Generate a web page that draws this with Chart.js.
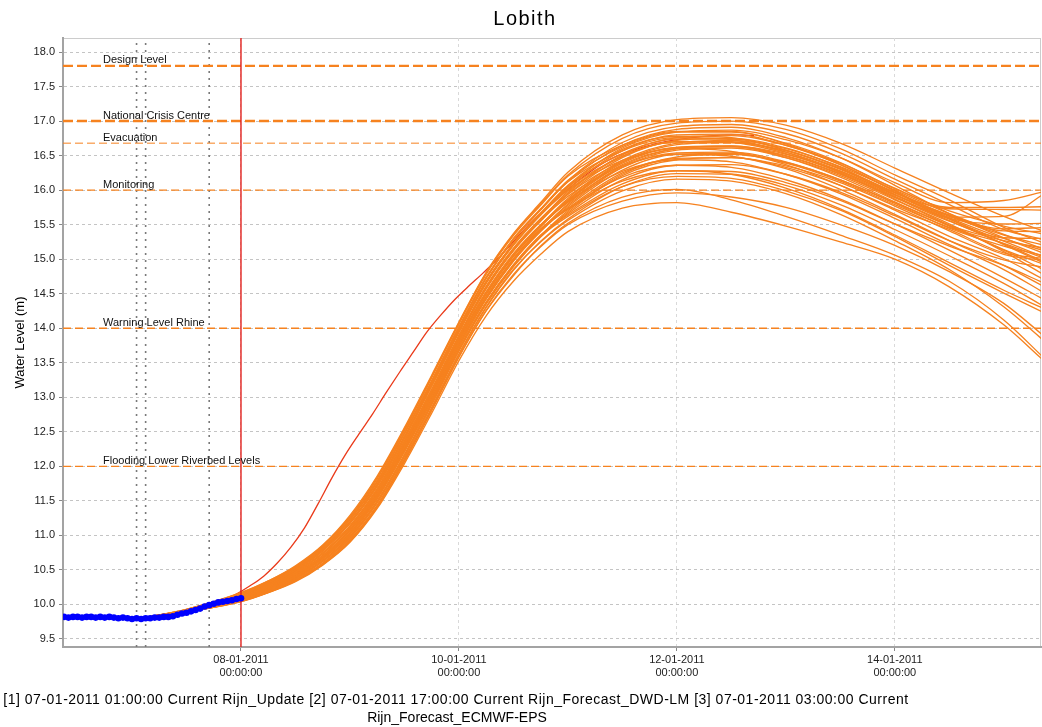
<!DOCTYPE html>
<html>
<head>
<meta charset="utf-8">
<title>Lobith</title>
<script src="https://cdn.jsdelivr.net/npm/chart.js@4.4.1/dist/chart.umd.min.js"></script>
<style>
  html, body { margin: 0; padding: 0; background: #fff; }
  #wrap { width: 1042px; height: 727px; }
</style>
</head>
<body>
<div id="wrap"><canvas id="c" width="1042" height="727"></canvas></div>
<script>
// Time axis is in hours since 07-01-2011 00:00:00
const X_MIN = -15.2;
const X_MAX = 200.2;
const Y_MIN = 9.384;
const Y_MAX = 18.203;

const yTicks = [9.5, 10.0, 10.5, 11.0, 11.5, 12.0, 12.5, 13.0, 13.5, 14.0, 14.5, 15.0, 15.5, 16.0, 16.5, 17.0, 17.5, 18.0];
const tickHours = [24, 72, 120, 168];
const tickLabels = [
  ['08-01-2011', '00:00:00'],
  ['10-01-2011', '00:00:00'],
  ['12-01-2011', '00:00:00'],
  ['14-01-2011', '00:00:00']
];

// Alarm levels
const levelNames = ['Design Level', 'National Crisis Centre', 'Evacuation', 'Monitoring', 'Warning Level Rhine', 'Flooding Lower Riverbed Levels'];
const levelValues = [17.8, 17.0, 16.68, 16.0, 14.0, 12.0];

// Forecast run times (hours): [1] Rijn_Update, [3] ECMWF-EPS, [2] DWD-LM
const runHours = [1, 3, 17];
const nowHour = 24;

// Observed water level, hourly from hour -15 to hour 24
const obsStartHour = -15;
const observed = [
  9.82, 9.81, 9.82, 9.82, 9.81, 9.82, 9.82, 9.81, 9.82, 9.81, 9.82, 9.81, 9.80, 9.81, 9.80,
  9.79, 9.80, 9.79, 9.80, 9.80, 9.81, 9.81,
  9.82, 9.82, 9.83, 9.85, 9.87, 9.88,
  9.90, 9.92, 9.94, 9.97, 9.99, 10.01,
  10.03, 10.04, 10.05, 10.06, 10.08, 10.09
];

// Rijn_Forecast_DWD-LM, every 3 hours from hour 17
const dwdStartHour = 17;
const dwdForecast = [
  10.00, 10.05, 10.15, 10.27, 10.41, 10.60, 10.83, 11.11, 11.46, 11.83,
  12.17, 12.47, 12.76, 13.07, 13.37, 13.66, 13.95, 14.19, 14.41, 14.60,
  14.78, 14.97, 15.18, 15.40, 15.60, 15.78, 15.95, 16.12, 16.27, 16.40,
  16.50, 16.57, 16.63, 16.68, 16.72, 16.75, 16.77, 16.79, 16.80, 16.80, 16.79
];

// Rijn_Forecast_ECMWF-EPS members
const epsHours = [3, 12, 24, 30, 36, 42, 48, 54, 60, 66, 72, 78, 84, 90, 96, 108, 120, 132, 144, 156, 168, 180, 192, 201];
const epsMembers = [
  [9.81, 9.93, 10.17, 10.34, 10.56, 10.86, 11.29, 11.86, 12.56, 13.32, 14.09, 14.81, 15.37, 15.82, 16.26, 16.80, 17.02, 17.05, 16.94, 16.68, 16.32, 15.96, 15.62, 15.40],
  [9.81, 9.93, 10.17, 10.34, 10.55, 10.85, 11.27, 11.84, 12.54, 13.30, 14.08, 14.80, 15.36, 15.80, 16.22, 16.75, 16.97, 17.00, 16.88, 16.60, 16.22, 15.86, 15.46, 15.23],
  [9.81, 9.92, 10.15, 10.32, 10.53, 10.82, 11.24, 11.79, 12.49, 13.24, 14.02, 14.74, 15.30, 15.73, 16.14, 16.69, 16.92, 16.95, 16.82, 16.54, 16.16, 15.79, 15.43, 15.28],
  [9.81, 9.92, 10.15, 10.31, 10.52, 10.81, 11.22, 11.77, 12.47, 13.22, 14.00, 14.72, 15.28, 15.71, 16.12, 16.65, 16.88, 16.91, 16.76, 16.47, 16.07, 15.66, 15.31, 15.08],
  [9.80, 9.92, 10.14, 10.29, 10.50, 10.78, 11.18, 11.72, 12.41, 13.17, 13.95, 14.66, 15.21, 15.65, 16.05, 16.61, 16.84, 16.87, 16.73, 16.47, 16.11, 15.82, 15.85, 15.98],
  [9.81, 9.93, 10.16, 10.33, 10.54, 10.84, 11.26, 11.82, 12.52, 13.28, 14.06, 14.78, 15.34, 15.78, 16.20, 16.65, 16.85, 16.85, 16.67, 16.37, 15.99, 15.59, 15.21, 14.94],
  [9.80, 9.92, 10.14, 10.30, 10.51, 10.79, 11.19, 11.74, 12.43, 13.19, 13.96, 14.67, 15.23, 15.66, 16.04, 16.57, 16.80, 16.81, 16.65, 16.37, 15.99, 15.61, 15.62, 15.95],
  [9.80, 9.91, 10.12, 10.27, 10.47, 10.74, 11.13, 11.66, 12.35, 13.10, 13.88, 14.59, 15.14, 15.57, 15.96, 16.51, 16.76, 16.79, 16.65, 16.39, 16.03, 15.75, 15.75, 15.76],
  [9.81, 9.92, 10.15, 10.32, 10.52, 10.81, 11.23, 11.78, 12.48, 13.23, 14.01, 14.73, 15.29, 15.72, 16.12, 16.57, 16.76, 16.73, 16.55, 16.25, 15.87, 15.49, 15.13, 14.84],
  [9.80, 9.91, 10.12, 10.26, 10.46, 10.73, 11.11, 11.64, 12.33, 13.08, 13.86, 14.57, 15.12, 15.55, 15.94, 16.47, 16.72, 16.75, 16.61, 16.33, 15.96, 15.73, 15.72, 15.71],
  [9.80, 9.92, 10.14, 10.29, 10.49, 10.77, 11.17, 11.71, 12.40, 13.16, 13.94, 14.65, 15.20, 15.64, 16.02, 16.49, 16.70, 16.69, 16.53, 16.26, 15.91, 15.59, 15.51, 15.52],
  [9.80, 9.91, 10.10, 10.25, 10.44, 10.70, 11.08, 11.60, 12.29, 13.04, 13.82, 14.51, 15.06, 15.49, 15.86, 16.41, 16.66, 16.69, 16.57, 16.31, 15.97, 15.63, 15.41, 15.40],
  [9.80, 9.91, 10.12, 10.28, 10.48, 10.75, 11.14, 11.68, 12.37, 13.12, 13.90, 14.61, 15.16, 15.59, 15.94, 16.41, 16.62, 16.63, 16.47, 16.19, 15.83, 15.49, 15.27, 15.16],
  [9.80, 9.91, 10.10, 10.24, 10.43, 10.69, 11.06, 11.58, 12.27, 13.02, 13.80, 14.49, 15.04, 15.47, 15.84, 16.37, 16.60, 16.63, 16.49, 16.23, 15.89, 15.55, 15.31, 15.30],
  [9.80, 9.90, 10.09, 10.23, 10.41, 10.67, 11.03, 11.55, 12.23, 12.97, 13.75, 14.44, 14.99, 15.42, 15.78, 16.33, 16.58, 16.61, 16.47, 16.21, 15.86, 15.51, 15.11, 14.77],
  [9.80, 9.91, 10.11, 10.26, 10.45, 10.71, 11.09, 11.62, 12.31, 13.06, 13.84, 14.53, 15.08, 15.50, 15.83, 16.33, 16.54, 16.55, 16.41, 16.15, 15.81, 15.45, 15.19, 15.05],
  [9.80, 9.92, 10.14, 10.29, 10.50, 10.78, 11.19, 11.73, 12.42, 13.18, 13.96, 14.67, 15.22, 15.64, 16.00, 16.43, 16.60, 16.56, 16.37, 16.07, 15.71, 15.33, 15.01, 14.70],
  [9.80, 9.90, 10.08, 10.22, 10.40, 10.66, 11.01, 11.53, 12.21, 12.95, 13.73, 14.42, 14.97, 15.40, 15.76, 16.29, 16.52, 16.53, 16.39, 16.13, 15.79, 15.46, 15.23, 15.01],
  [9.80, 9.91, 10.12, 10.27, 10.47, 10.74, 11.12, 11.65, 12.34, 13.09, 13.87, 14.58, 15.13, 15.56, 15.91, 16.35, 16.52, 16.49, 16.31, 16.01, 15.65, 15.27, 14.91, 14.60],
  [9.80, 9.90, 10.09, 10.23, 10.42, 10.68, 11.04, 11.56, 12.25, 12.99, 13.77, 14.46, 15.01, 15.44, 15.74, 16.25, 16.46, 16.47, 16.33, 16.07, 15.73, 15.43, 15.09, 15.01],
  [9.79, 9.90, 10.07, 10.20, 10.38, 10.63, 10.98, 11.49, 12.16, 12.91, 13.69, 14.37, 14.91, 15.34, 15.68, 16.21, 16.44, 16.47, 16.35, 16.11, 15.77, 15.41, 15.07, 14.98],
  [9.80, 9.91, 10.10, 10.25, 10.44, 10.70, 11.07, 11.59, 12.28, 13.03, 13.81, 14.50, 15.05, 15.48, 15.82, 16.27, 16.44, 16.41, 16.23, 15.95, 15.59, 15.21, 14.85, 14.51],
  [9.79, 9.90, 10.07, 10.19, 10.37, 10.62, 10.96, 11.47, 12.14, 12.89, 13.67, 14.35, 14.89, 15.32, 15.66, 16.15, 16.36, 16.37, 16.23, 15.97, 15.63, 15.27, 14.99, 14.88],
  [9.80, 9.90, 10.09, 10.22, 10.41, 10.66, 11.02, 11.54, 12.22, 12.96, 13.74, 14.43, 14.98, 15.41, 15.73, 16.19, 16.36, 16.33, 16.15, 15.87, 15.51, 15.13, 14.73, 14.41],
  [9.79, 9.90, 10.07, 10.21, 10.39, 10.64, 10.99, 11.50, 12.17, 12.92, 13.70, 14.38, 14.92, 15.35, 15.64, 16.09, 16.28, 16.27, 16.11, 15.85, 15.51, 15.19, 14.91, 14.65],
  [9.79, 9.89, 10.05, 10.18, 10.35, 10.59, 10.93, 11.43, 12.10, 12.84, 13.62, 14.30, 14.84, 15.26, 15.58, 16.05, 16.24, 16.23, 16.07, 15.79, 15.43, 15.05, 14.65, 14.31],
  [9.80, 9.90, 10.09, 10.23, 10.41, 10.67, 11.03, 11.55, 12.24, 12.98, 13.76, 14.45, 15.00, 15.43, 15.72, 16.13, 16.28, 16.23, 16.03, 15.73, 15.35, 14.95, 14.55, 14.28],
  [9.79, 9.90, 10.07, 10.20, 10.38, 10.63, 10.97, 11.48, 12.15, 12.90, 13.68, 14.36, 14.90, 15.33, 15.62, 16.05, 16.20, 16.17, 15.99, 15.71, 15.33, 14.91, 14.51, 14.22],
  [9.79, 9.89, 10.05, 10.18, 10.36, 10.60, 10.94, 11.44, 12.11, 12.85, 13.63, 14.31, 14.85, 15.25, 15.56, 15.99, 16.16, 16.13, 15.95, 15.65, 15.27, 14.85, 14.31, 13.81],
  [9.79, 9.89, 10.05, 10.18, 10.34, 10.58, 10.92, 11.42, 12.08, 12.82, 13.59, 14.26, 14.78, 15.18, 15.50, 15.84, 15.96, 15.90, 15.75, 15.50, 15.20, 14.82, 14.36, 13.88],
  [9.79, 9.89, 10.04, 10.17, 10.34, 10.58, 10.91, 11.41, 12.07, 12.81, 13.58, 14.25, 14.76, 15.19, 15.52, 15.90, 16.01, 15.86, 15.62, 15.35, 15.06, 14.68, 14.12, 13.56],
  [9.79, 9.89, 10.04, 10.17, 10.33, 10.57, 10.90, 11.39, 12.04, 12.77, 13.53, 14.18, 14.68, 15.07, 15.40, 15.74, 15.82, 15.68, 15.48, 15.25, 15.00, 14.60, 14.05, 13.52],
  [9.81, 9.92, 10.15, 10.32, 10.53, 10.82, 11.23, 11.78, 12.48, 13.23, 14.01, 14.73, 15.29, 15.72, 16.14, 16.63, 16.84, 16.84, 16.68, 16.40, 16.02, 15.70, 15.48, 15.36],
  [9.80, 9.92, 10.14, 10.29, 10.50, 10.78, 11.18, 11.72, 12.41, 13.17, 13.95, 14.66, 15.21, 15.65, 16.07, 16.59, 16.78, 16.76, 16.58, 16.30, 15.94, 15.60, 15.30, 15.12],
  [9.80, 9.91, 10.12, 10.27, 10.47, 10.74, 11.13, 11.66, 12.35, 13.10, 13.88, 14.59, 15.14, 15.57, 15.98, 16.49, 16.70, 16.70, 16.55, 16.28, 15.93, 15.62, 15.35, 15.20],
  [9.80, 9.91, 10.10, 10.25, 10.44, 10.70, 11.08, 11.60, 12.29, 13.04, 13.82, 14.51, 15.06, 15.49, 15.88, 16.43, 16.68, 16.72, 16.60, 16.34, 16.00, 15.66, 15.36, 15.14],
  [9.80, 9.90, 10.09, 10.23, 10.41, 10.67, 11.03, 11.55, 12.23, 12.97, 13.75, 14.44, 14.99, 15.42, 15.80, 16.35, 16.60, 16.64, 16.52, 16.27, 15.93, 15.58, 15.26, 15.03],
  [9.80, 9.92, 10.14, 10.30, 10.50, 10.79, 11.19, 11.74, 12.43, 13.19, 13.97, 14.68, 15.23, 15.67, 16.06, 16.53, 16.74, 16.74, 16.58, 16.31, 15.96, 15.64, 15.44, 15.46],
  [9.80, 9.91, 10.10, 10.24, 10.43, 10.69, 11.07, 11.59, 12.28, 13.03, 13.81, 14.50, 15.05, 15.48, 15.85, 16.39, 16.62, 16.64, 16.50, 16.24, 15.90, 15.56, 15.22, 14.96],
  [9.79, 9.90, 10.07, 10.20, 10.38, 10.63, 10.98, 11.49, 12.16, 12.91, 13.69, 14.37, 14.91, 15.34, 15.70, 16.23, 16.48, 16.52, 16.40, 16.15, 15.82, 15.48, 15.14, 14.92]
];

const footerLines = [
  '[1] 07-01-2011 01:00:00 Current Rijn_Update [2] 07-01-2011 17:00:00 Current Rijn_Forecast_DWD-LM [3] 07-01-2011 03:00:00 Current',
  'Rijn_Forecast_ECMWF-EPS'
];

// ---- styles ----
const FONT = '"Liberation Sans", Arial, sans-serif';
const ORANGE = '#f6821f';
const levelStyle = [
  { width: 2.2, dash: [10, 4] },
  { width: 2.6, dash: [10, 4] },
  { width: 1.0, dash: [8, 4] },
  { width: 1.4, dash: [8, 4] },
  { width: 1.4, dash: [8, 4] },
  { width: 1.4, dash: [8, 4] }
];

const datasets = [];

datasets.push({
  label: 'Rijn_Update',
  data: observed.map((v, i) => ({ x: obsStartHour + i, y: v })),
  borderColor: '#0000ff',
  backgroundColor: '#0000ff',
  borderWidth: 2.5,
  pointRadius: 3.3,
  pointBorderWidth: 0,
  pointBackgroundColor: '#0000ff',
  order: 0
});

datasets.push({
  label: 'now',
  data: [{ x: nowHour, y: Y_MIN }, { x: nowHour, y: Y_MAX }],
  borderColor: '#e2201c',
  borderWidth: 1.4,
  pointRadius: 0,
  order: 1
});

epsMembers.forEach((m, k) => {
  datasets.push({
    label: 'ECMWF-EPS ' + (k + 1),
    data: m.map((v, i) => ({ x: epsHours[i], y: v })),
    borderColor: ORANGE,
    borderWidth: 1.35,
    pointRadius: 0,
    cubicInterpolationMode: 'monotone',
    order: 5
  });
});

datasets.push({
  label: 'Rijn_Forecast_DWD-LM',
  data: dwdForecast.map((v, i) => ({ x: dwdStartHour + 3 * i, y: v })),
  borderColor: '#ea3a1a',
  borderWidth: 1.3,
  pointRadius: 0,
  cubicInterpolationMode: 'monotone',
  order: 10
});

levelValues.forEach((v, i) => {
  datasets.push({
    label: levelNames[i],
    data: [{ x: X_MIN, y: v }, { x: X_MAX, y: v }],
    borderColor: ORANGE,
    borderWidth: levelStyle[i].width,
    borderDash: levelStyle[i].dash,
    pointRadius: 0,
    order: 20
  });
});

runHours.forEach((h) => {
  datasets.push({
    label: 'run ' + h,
    data: [{ x: h, y: Y_MIN }, { x: h, y: Y_MAX }],
    borderColor: '#7a7a7a',
    borderWidth: 1.6,
    borderDash: [2, 5],
    pointRadius: 0,
    order: 20
  });
});

// Plot frame, titles, level labels and footer
const decorations = {
  id: 'decorations',
  beforeDraw(chart) {
    const { ctx, chartArea: a } = chart;
    ctx.save();
    ctx.fillStyle = '#fff';
    ctx.fillRect(0, 0, chart.width, chart.height);
    ctx.strokeStyle = '#cccccc';
    ctx.lineWidth = 1;
    ctx.strokeRect(a.left + 0.5, a.top + 0.5, a.right - a.left - 1, a.bottom - a.top - 1);
    ctx.restore();
  },
  afterDraw(chart) {
    const { ctx, chartArea: a, scales } = chart;
    ctx.save();
    // level labels
    ctx.fillStyle = '#111';
    ctx.font = '11px ' + FONT;
    ctx.textAlign = 'left';
    ctx.textBaseline = 'middle';
    levelNames.forEach((name, i) => {
      const y = scales.y.getPixelForValue(levelValues[i]);
      ctx.fillText(name, a.left + 40, y - 5.5);
    });
    // title
    ctx.fillStyle = '#000';
    ctx.font = '20px ' + FONT;
    ctx.textAlign = 'center';
    ctx.textBaseline = 'middle';
    try { ctx.letterSpacing = '1.5px'; } catch (e) {}
    ctx.fillText('Lobith', 525, 19);
    try { ctx.letterSpacing = '0px'; } catch (e) {}
    // y axis title
    ctx.save();
    ctx.translate(20, (a.top + a.bottom) / 2);
    ctx.rotate(-Math.PI / 2);
    ctx.font = '13px ' + FONT;
    ctx.fillStyle = '#000';
    ctx.fillText('Water Level (m)', 0, 0);
    ctx.restore();
    // footer
    ctx.font = '14px ' + FONT;
    ctx.fillStyle = '#000';
    ctx.textAlign = 'center';
    try { ctx.letterSpacing = '0.5px'; } catch (e) {}
    ctx.fillText(footerLines[0], 456, 700);
    try { ctx.letterSpacing = '0px'; } catch (e) {}
    ctx.fillText(footerLines[1], 457, 718);
    ctx.restore();
  }
};

new Chart(document.getElementById('c'), {
  type: 'line',
  data: { datasets },
  plugins: [decorations],
  options: {
    responsive: false,
    animation: false,
    events: [],
    layout: { autoPadding: false, padding: { top: 38, right: 1, left: 0, bottom: 0 } },
    plugins: { legend: { display: false }, title: { display: false }, tooltip: { enabled: false } },
    scales: {
      x: {
        type: 'linear',
        min: X_MIN,
        max: X_MAX,
        afterFit(s) { s.height = 80; s.paddingLeft = 0; s.paddingRight = 0; },
        afterBuildTicks(s) { s.ticks = tickHours.map(v => ({ value: v })); },
        ticks: {
          autoSkip: false,
          maxRotation: 0,
          padding: 2,
          color: '#222',
          font: { family: FONT, size: 11, lineHeight: 1.2 },
          callback: (v, i) => tickLabels[i]
        },
        grid: { color: '#d9d9d9', lineWidth: 1, tickLength: 4, tickColor: '#888' },
        border: { display: true, color: '#a3a3a3', width: 2, dash: [3, 3] }
      },
      y: {
        type: 'linear',
        min: Y_MIN,
        max: Y_MAX,
        afterFit(s) { s.width = 63; s.paddingTop = 0; s.paddingBottom = 0; },
        afterBuildTicks(s) { s.ticks = yTicks.map(v => ({ value: v })); },
        ticks: {
          padding: 4,
          color: '#222',
          font: { family: FONT, size: 11 },
          callback: (v) => Number(v).toFixed(1)
        },
        grid: { color: '#c4c4c4', lineWidth: 1, tickLength: 4, tickColor: '#888' },
        border: { display: true, color: '#a3a3a3', width: 2, dash: [3, 3] }
      }
    }
  }
});
</script>
</body>
</html>
